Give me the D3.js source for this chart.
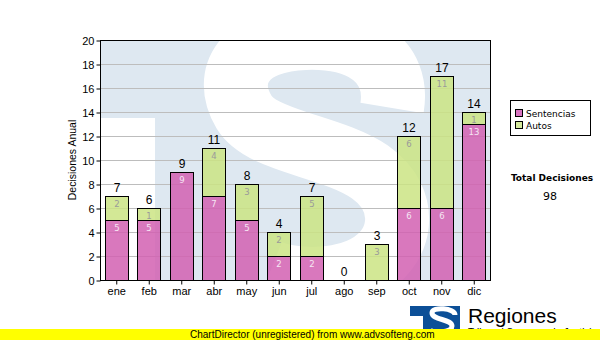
<!DOCTYPE html>
<html><head><meta charset="utf-8">
<script src="https://cdn.jsdelivr.net/npm/d3@7"></script>
<style>body{margin:0;background:#fff}svg{display:block}</style>
</head><body>
<script>
const months = ["ene","feb","mar","abr","may","jun","jul","ago","sep","oct","nov","dic"];
const sentencias = [5,5,9,7,5,2,2,0,0,6,6,13];
const autos = [2,1,0,4,3,2,5,0,3,6,11,1];
const seriesNames = ["Sentencias","Autos"];
const yTicks = [0,2,4,6,8,10,12,14,16,18,20];

const W=600,H=340;
const svg=d3.select("body").append("svg").attr("width",W).attr("height",H);
const pl=100,pr=490,pt=40,pb=280;
const x=d3.scaleBand().domain(months).range([pl,pr]).paddingInner(0.29).paddingOuter(0.145);
const y=d3.scaleLinear().domain([0,20]).range([pb,pt]);
const font="'Liberation Sans', Arial, sans-serif";
const vfont="'DejaVu Sans', Verdana, sans-serif";

// plot background with watermark
const defs=svg.append("defs");
defs.append("clipPath").attr("id","pc").append("rect").attr("x",pl).attr("y",pt).attr("width",pr-pl).attr("height",pb-pt);
const bg=svg.append("g").attr("clip-path","url(#pc)");
bg.append("rect").attr("x",pl).attr("y",pt).attr("width",pr-pl).attr("height",pb-pt).attr("fill","#dee8f1");
bg.append("rect").attr("x",pl).attr("y",118).attr("width",55).attr("height",170).attr("fill","#fff");
bg.append("path").attr("d","M 392,108 C 400,60 360,36 305,38 C 245,40 222,75 244,112 C 262,142 330,145 370,172 C 410,200 405,250 360,270 C 330,283 290,280 270,272")
  .attr("fill","none").attr("stroke","#fff").attr("stroke-width",64);

// grid
svg.append("g").selectAll("line").data(yTicks.filter(d=>d>0&&d<20)).join("line")
  .attr("x1",pl).attr("x2",pr).attr("y1",d=>y(d)+0.5).attr("y2",d=>y(d)+0.5)
  .attr("stroke","#bdbdbd").attr("stroke-width",1);

// bars
const stack=months.map((m,i)=>({m,s:sentencias[i],a:autos[i]}));
const gb=svg.append("g");
stack.forEach(d=>{
  const bx=Math.round(x(d.m))+0.5, bw=Math.round(x.bandwidth());
  if(d.s>0){
    gb.append("rect").attr("x",bx).attr("y",Math.round(y(d.s))+0.5).attr("width",bw).attr("height",Math.round(y(0))-Math.round(y(d.s)))
      .attr("fill","#d260b2").attr("fill-opacity",0.85).attr("stroke","#000");
    gb.append("text").attr("x",bx+bw/2).attr("y",y(d.s)+11).attr("text-anchor","middle")
      .attr("font-family",vfont).attr("font-size",8.5).attr("fill","#f6e6f4").text(d.s);
  }
  if(d.a>0){
    gb.append("rect").attr("x",bx).attr("y",Math.round(y(d.s+d.a))+0.5).attr("width",bw).attr("height",Math.round(y(d.s))-Math.round(y(d.s+d.a)))
      .attr("fill","#cbe484").attr("fill-opacity",0.85).attr("stroke","#000");
    gb.append("text").attr("x",bx+bw/2).attr("y",y(d.s+d.a)+11).attr("text-anchor","middle")
      .attr("font-family",vfont).attr("font-size",8.5).attr("fill","#9a9a9a").text(d.a);
  }
  gb.append("text").attr("x",bx+bw/2).attr("y",y(d.s+d.a)-4).attr("text-anchor","middle")
    .attr("font-family",font).attr("font-size",12).attr("fill","#000").text(d.s+d.a);
});

// border
svg.append("rect").attr("x",pl+0.5).attr("y",pt+0.5).attr("width",pr-pl).attr("height",pb-pt)
  .attr("fill","none").attr("stroke","#000");

// axes
const ya=svg.append("g").attr("transform",`translate(${pl+0.5},0.5)`).call(d3.axisLeft(y).tickValues(yTicks).tickSize(4).tickPadding(2));
const xa=svg.append("g").attr("transform",`translate(0.5,${pb+0.5})`).call(d3.axisBottom(x).tickSize(4).tickPadding(3));
[ya,xa].forEach(a=>{a.select(".domain").remove();a.selectAll("text").attr("font-family",font).attr("font-size",11).attr("fill","#000");a.selectAll("line").attr("stroke","#000");});

svg.append("text").attr("transform",`translate(76,${(pt+pb)/2}) rotate(-90)`).attr("text-anchor","middle")
  .attr("font-family",font).attr("font-size",10.5).text("Decisiones Anual");

// legend
const lg=svg.append("g");
lg.append("rect").attr("x",510.5).attr("y",100.5).attr("width",80).attr("height",35).attr("fill","#fff").attr("stroke","#000");
const lc=["#d873c0","#d6eb9e"];
seriesNames.forEach((n,i)=>{
  lg.append("rect").attr("x",515.5).attr("y",109.5+i*12).attr("width",7).attr("height",7).attr("fill",lc[i]).attr("stroke","#000");
  lg.append("text").attr("x",526).attr("y",117+i*12).attr("font-family",vfont).attr("font-size",9).text(n);
});
const total=d3.sum(sentencias)+d3.sum(autos);
svg.append("text").attr("x",552).attr("y",181).attr("text-anchor","middle").attr("font-family",vfont).attr("font-weight","bold").attr("font-size",9).text("Total Decisiones");
svg.append("text").attr("x",550).attr("y",200).attr("text-anchor","middle").attr("font-family",vfont).attr("font-size",11).text(total);

// logo
const lgo=svg.append("g");
lgo.append("rect").attr("x",410).attr("y",306).attr("width",50).attr("height",30).attr("fill","#0c4f97");
lgo.append("rect").attr("x",410).attr("y",316).attr("width",13).attr("height",20).attr("fill","#fff");
lgo.append("path").attr("d","M 455,315 C 455,308 432,306 432,313 C 432,320 452,319 452,326 C 452,333 433,333 430,330")
  .attr("fill","none").attr("stroke","#fff").attr("stroke-width",5);
svg.append("text").attr("x",468).attr("y",323).attr("font-family",font).attr("font-size",21).text("Regiones");
svg.append("text").attr("x",468).attr("y",336).attr("font-family",font).attr("font-size",10).text("Tribunal Supremo de Justicia");

// footer bar
svg.append("rect").attr("x",0).attr("y",329).attr("width",W).attr("height",11).attr("fill","#ffff00");
svg.append("text").attr("x",190).attr("y",338).attr("font-family",font).attr("font-size",10).text("ChartDirector (unregistered) from www.advsofteng.com");
</script>
</body></html>
